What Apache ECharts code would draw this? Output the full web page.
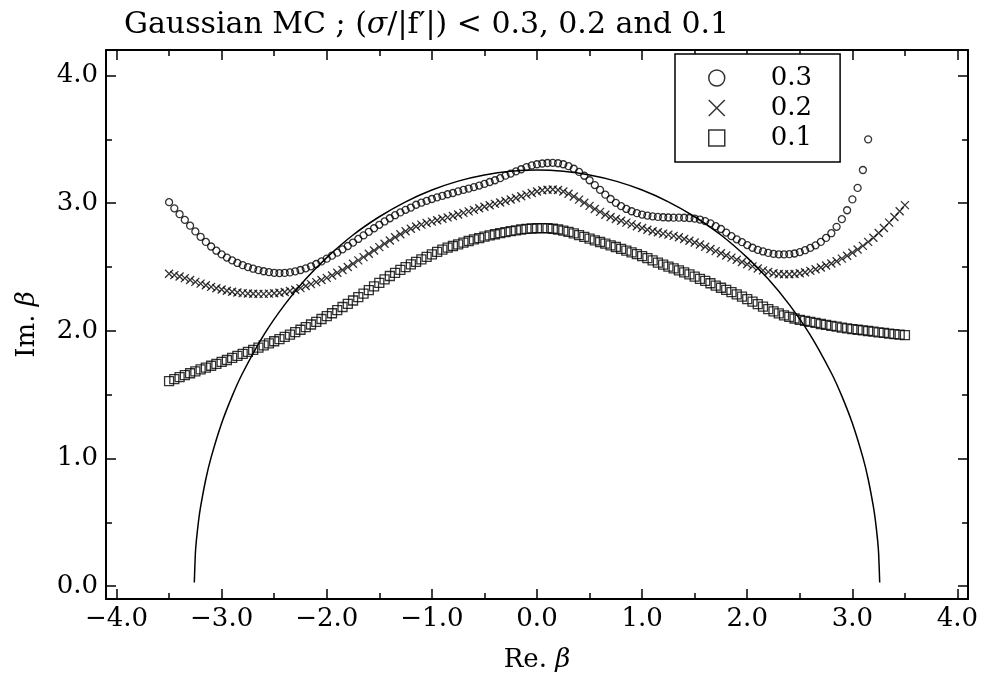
<!DOCTYPE html>
<html><head><meta charset="utf-8">
<script src="https://cdn.jsdelivr.net/npm/echarts@6/dist/echarts.min.js"></script>
<style>html,body{margin:0;padding:0;background:#fff}#c{width:986px;height:684px}</style>
</head><body><div id="c"></div>
<script>
// Re(beta) sample positions
const reBeta = [-3.50,-3.45,-3.40,-3.35,-3.30,-3.25,-3.20,-3.15,-3.10,-3.05,
-3.00,-2.95,-2.90,-2.85,-2.80,-2.75,-2.70,-2.65,-2.60,-2.55,
-2.50,-2.45,-2.40,-2.35,-2.30,-2.25,-2.20,-2.15,-2.10,-2.05,
-2.00,-1.95,-1.90,-1.85,-1.80,-1.75,-1.70,-1.65,-1.60,-1.55,
-1.50,-1.45,-1.40,-1.35,-1.30,-1.25,-1.20,-1.15,-1.10,-1.05,
-1.00,-0.95,-0.90,-0.85,-0.80,-0.75,-0.70,-0.65,-0.60,-0.55,
-0.50,-0.45,-0.40,-0.35,-0.30,-0.25,-0.20,-0.15,-0.10,-0.05,
0.00,0.05,0.10,0.15,0.20,0.25,0.30,0.35,0.40,0.45,
0.50,0.55,0.60,0.65,0.70,0.75,0.80,0.85,0.90,0.95,
1.00,1.05,1.10,1.15,1.20,1.25,1.30,1.35,1.40,1.45,
1.50,1.55,1.60,1.65,1.70,1.75,1.80,1.85,1.90,1.95,
2.00,2.05,2.10,2.15,2.20,2.25,2.30,2.35,2.40,2.45,
2.50,2.55,2.60,2.65,2.70,2.75,2.80,2.85,2.90,2.95,
3.00,3.05,3.10,3.15,3.20,3.25,3.30,3.35,3.40,3.45,3.50];

// Im(beta), sigma/|f'| < 0.3 (circles), ends at Re = 3.15
const im03 = [3.008,2.960,2.914,2.869,2.824,2.779,2.737,2.697,2.661,2.628,
2.599,2.574,2.552,2.532,2.515,2.500,2.487,2.476,2.467,2.460,
2.455,2.453,2.454,2.458,2.466,2.477,2.490,2.506,2.524,2.544,
2.566,2.589,2.613,2.639,2.665,2.692,2.720,2.748,2.776,2.804,
2.831,2.857,2.882,2.906,2.928,2.948,2.966,2.988,3.004,3.018,
3.033,3.046,3.058,3.070,3.080,3.093,3.104,3.115,3.126,3.138,
3.151,3.166,3.180,3.196,3.216,3.232,3.249,3.266,3.283,3.296,
3.305,3.311,3.315,3.316,3.313,3.305,3.290,3.270,3.245,3.215,
3.180,3.142,3.104,3.067,3.033,3.003,2.977,2.955,2.937,2.922,
2.911,2.903,2.897,2.893,2.890,2.888,2.887,2.887,2.886,2.884,
2.880,2.872,2.860,2.842,2.820,2.798,2.770,2.742,2.717,2.695,
2.672,2.651,2.635,2.622,2.611,2.603,2.600,2.599,2.601,2.606,
2.617,2.632,2.650,2.670,2.697,2.728,2.765,2.815,2.875,2.945,
3.030,3.120,3.260,3.500];

// sigma/|f'| < 0.2 (crosses)
const im02 = [2.447,2.437,2.426,2.413,2.398,2.384,2.370,2.357,2.345,2.334,
2.324,2.315,2.307,2.301,2.296,2.293,2.291,2.290,2.290,2.292,
2.295,2.299,2.305,2.313,2.322,2.335,2.352,2.366,2.382,2.398,
2.415,2.434,2.455,2.477,2.500,2.526,2.552,2.578,2.604,2.630,
2.656,2.682,2.708,2.733,2.757,2.780,2.800,2.817,2.832,2.845,
2.856,2.867,2.878,2.889,2.900,2.912,2.924,2.936,2.948,2.960,
2.972,2.984,2.995,3.006,3.017,3.029,3.041,3.054,3.067,3.080,
3.092,3.101,3.106,3.107,3.103,3.092,3.074,3.052,3.028,3.003,
2.979,2.955,2.932,2.910,2.892,2.876,2.862,2.848,2.834,2.820,
2.806,2.792,2.781,2.772,2.762,2.754,2.744,2.733,2.720,2.706,
2.692,2.676,2.659,2.642,2.625,2.608,2.591,2.574,2.557,2.540,
2.522,2.505,2.489,2.474,2.462,2.452,2.446,2.443,2.443,2.446,
2.451,2.459,2.470,2.483,2.497,2.512,2.528,2.546,2.566,2.588,
2.612,2.638,2.666,2.697,2.730,2.767,2.806,2.848,2.892,2.937,2.985];

// sigma/|f'| < 0.1 (squares)
const im01 = [1.607,1.622,1.638,1.653,1.668,1.683,1.698,1.712,1.727,1.742,
1.757,1.772,1.788,1.804,1.820,1.836,1.852,1.869,1.886,1.902,
1.919,1.936,1.953,1.971,1.990,2.009,2.029,2.050,2.071,2.093,
2.115,2.138,2.162,2.187,2.212,2.238,2.265,2.292,2.320,2.348,
2.376,2.403,2.430,2.455,2.478,2.500,2.521,2.541,2.560,2.580,
2.600,2.619,2.637,2.652,2.665,2.678,2.691,2.704,2.716,2.727,
2.738,2.748,2.757,2.766,2.774,2.781,2.788,2.794,2.799,2.802,
2.804,2.805,2.804,2.800,2.794,2.786,2.776,2.764,2.750,2.736,
2.722,2.709,2.696,2.683,2.670,2.657,2.643,2.629,2.615,2.601,
2.585,2.570,2.553,2.535,2.519,2.504,2.489,2.474,2.458,2.442,
2.425,2.408,2.391,2.373,2.355,2.338,2.321,2.304,2.286,2.268,
2.249,2.229,2.209,2.190,2.171,2.153,2.137,2.122,2.109,2.097,
2.087,2.078,2.070,2.062,2.054,2.047,2.040,2.033,2.026,2.020,
2.014,2.009,2.004,1.999,1.994,1.989,1.984,1.979,1.975,1.971,1.967];

// reference semicircle
const arcX = [-3.26,-3.25,-3.24,-3.22,-3.20,-3.15,-3.10,-3.00,-2.90,-2.80,-2.60,-2.40,-2.20,-2.00,-1.75,-1.50,-1.25,-1.00,-0.75,-0.50,-0.25,0.00,
0.25,0.50,0.75,1.00,1.25,1.50,1.75,2.00,2.20,2.40,2.60,2.80,2.90,3.00,3.10,3.15,3.20,3.22,3.24,3.25,3.26];
const arcY = [0.030,0.255,0.361,0.509,0.623,0.840,1.009,1.276,1.489,1.670,1.967,2.206,2.406,2.574,2.751,2.894,3.011,3.103,3.173,3.221,3.250,3.260,
3.250,3.221,3.173,3.103,3.011,2.894,2.751,2.574,2.406,2.206,1.967,1.670,1.489,1.276,1.009,0.840,0.623,0.509,0.361,0.255,0.030];

const seriesNames = ['0.3','0.2','0.1'];
const xTickLabels = ['\u22124.0','\u22123.0','\u22122.0','\u22121.0','0.0','1.0','2.0','3.0','4.0'];

const FONT = '"DejaVu Serif", serif';
const BLACK = '#000';
function pair(xs, ys){ return ys.map((y,i)=>[xs[i], y]); }
function fmt(v){
  if (Math.abs(v - Math.round(v)) > 1e-6) return '';
  return v.toFixed(1).replace('-', '\u2212');
}
function axisCommon(min, max, step, pos, tickLen, withLine, withLabel){
  return {
    type:'value', position:pos, min:min, max:max,
    splitNumber: Math.round((max-min)/step), minInterval:step, maxInterval:step,
    axisLine:{show:withLine, onZero:false, lineStyle:{color:BLACK, width:2}},
    axisTick:{show:true, inside:true, length:tickLen, lineStyle:{color:BLACK, width:1.5}},
    axisLabel:{show:withLabel, formatter:fmt, color:BLACK, fontFamily:FONT, fontSize:26},
    splitLine:{show:false}
  };
}
const xMain = axisCommon(-4.1, 4.1, 1, 'bottom', 10, true, true);
xMain.axisLabel.margin = 7;
xMain.name = 'Re. {i|\u03b2}';
xMain.nameLocation = 'middle';
xMain.nameGap = 48;
xMain.nameTextStyle = {color:BLACK, fontFamily:FONT, fontSize:26, rich:{i:{fontStyle:'italic', fontFamily:FONT, fontSize:26}}};
const yMain = axisCommon(-0.1, 4.2, 1, 'left', 10, true, true);
yMain.axisLabel.margin = 8;
yMain.name = 'Im. {i|\u03b2}';
yMain.nameLocation = 'middle';
yMain.nameGap = 66;
yMain.nameTextStyle = {color:BLACK, fontFamily:FONT, fontSize:26, rich:{i:{fontStyle:'italic', fontFamily:FONT, fontSize:26}}};

const crossPath = 'path://M0,0L10,10M10,0L0,10';
const mk = {color:'rgba(0,0,0,0)', borderColor:BLACK, borderWidth:1.3};

const option = {
  animation:false,
  backgroundColor:'#fff',
  title:{
    text:'Gaussian MC ; ({i|\u03c3}/|f\u2032|) < 0.3, 0.2 and 0.1',
    left:119, top:5,
    textStyle:{color:BLACK, fontFamily:FONT, fontSize:30, fontWeight:'normal',
      rich:{i:{fontStyle:'italic', fontFamily:FONT, fontSize:30, color:BLACK}}}
  },
  grid:{left:106, top:50, width:862, height:549, containLabel:false},
  xAxis:[
    xMain,
    axisCommon(-4.1, 4.1, 0.5, 'bottom', 6, false, false),
    axisCommon(-4.1, 4.1, 1, 'top', 10, true, false),
    axisCommon(-4.1, 4.1, 0.5, 'top', 6, false, false)
  ],
  yAxis:[
    yMain,
    axisCommon(-0.1, 4.2, 0.5, 'left', 6, false, false),
    axisCommon(-0.1, 4.2, 1, 'right', 10, true, false),
    axisCommon(-0.1, 4.2, 0.5, 'right', 6, false, false)
  ],
  legend:{
    data:seriesNames.map(n=>({name:n, itemStyle:{borderWidth:1.5}})),
    orient:'vertical', left:675, top:54,
    padding:[11,28,11,33], itemGap:4, itemWidth:16, itemHeight:16,
    borderColor:BLACK, borderWidth:1.5, backgroundColor:'#fff',
    selectedMode:false,
    formatter:n=>'{g| }'+n,
    textStyle:{color:BLACK, fontFamily:FONT, fontSize:26, rich:{g:{width:41}}}
  },
  series:[
    {name:'semicircle', type:'line', data:pair(arcX, arcY), showSymbol:false, symbol:'none',
      smooth:0.2, lineStyle:{color:BLACK, width:1.5}, silent:true, z:1},
    {name:seriesNames[0], type:'scatter', symbol:'circle', symbolSize:7, itemStyle:mk,
      data:pair(reBeta, im03), z:3},
    {name:seriesNames[1], type:'scatter', symbol:crossPath, symbolSize:8, itemStyle:mk,
      data:pair(reBeta, im02), z:3},
    {name:seriesNames[2], type:'scatter', symbol:'rect', symbolSize:9, itemStyle:mk,
      data:pair(reBeta, im01), z:3}
  ]
};
const chart = echarts.init(document.getElementById('c'));
chart.setOption(option);
</script></body></html>
